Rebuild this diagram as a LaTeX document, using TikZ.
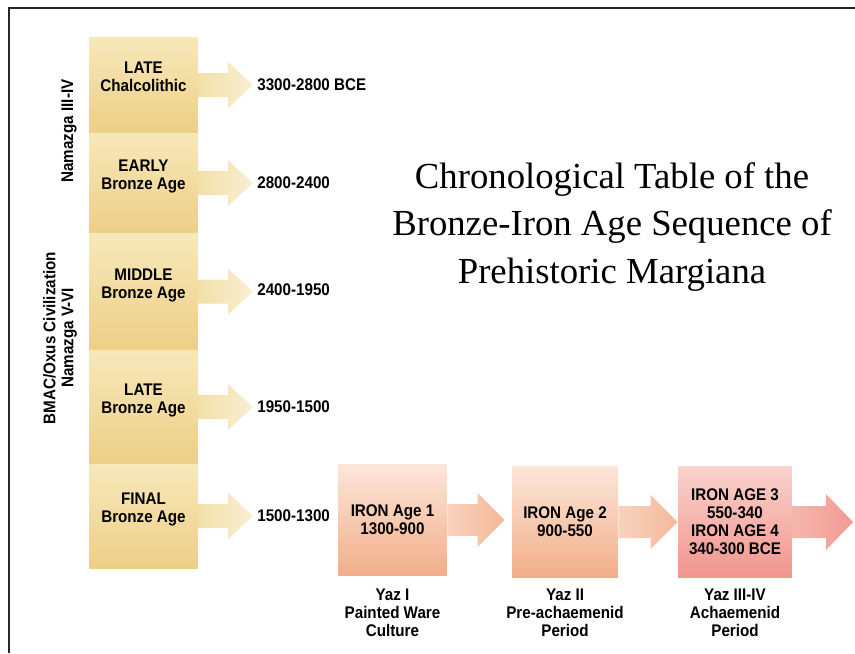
\documentclass[tikz,border=0pt]{standalone}
\usepackage{fontspec}
\setmainfont{Liberation Serif}
\setsansfont{Liberation Sans}
\newfontfamily\agefam[FakeStretch = 0.9]{Liberation Sans}
\usetikzlibrary{calc}
\usetikzlibrary{positioning}
\definecolor{yTop}{HTML}{F7E8BA}
\definecolor{yBot}{HTML}{EDCF86}
\definecolor{yArrL}{HTML}{F3E0A8}
\definecolor{yArrR}{HTML}{F9EFD2}
\definecolor{iTop}{HTML}{FCE6DA}
\definecolor{iMid}{HTML}{F7C6AA}
\definecolor{iBot}{HTML}{F2AE89}
\definecolor{iArrL}{HTML}{F8D2BD}
\definecolor{iArrR}{HTML}{F4B999}
\definecolor{rTop}{HTML}{F9D2CC}
\definecolor{rMid}{HTML}{F4A9A1}
\definecolor{rBot}{HTML}{F1958D}
\definecolor{rArrL}{HTML}{F6B6AD}
\definecolor{rArrR}{HTML}{F29A92}
\newcommand{\agefont}{\agefam\bfseries\fontsize{9.6}{10.3}\selectfont}
\tikzset{bz/.style = {top color = yTop, bottom color = yBot, minimum width = 2.18cm,
                      inner sep = 0, align = center, font = \agefont, text depth = 9pt}}
\tikzset{ib/.style = {top color = iTop, middle color = iMid, bottom color = iBot,
                      minimum height = 2.22cm, inner sep = 0, align = center, font = \agefont}}
\tikzset{rb/.style = {ib, top color = rTop, middle color = rMid, bottom color = rBot}}
\tikzset{dt/.style = {font = \agefont, anchor = west, inner sep = 0.08cm}}
\tikzset{yz/.style = {font = \agefont, align = center, inner sep = 0}}
\tikzset{vt/.style = {font = \agefont, rotate = 90, inner sep = 0}}
\tikzset{fat/.style n args = {3}{to path = {let \p1 = (\tikztostart), \p2 = (\tikztotarget) in
  (\x1, \y1 + #1) -- (\x2 - #3, \y1 + #1) -- (\x2 - #3, \y1 + #2) -- (\x2, \y1)
  -- (\x2 - #3, \y1 - #2) -- (\x2 - #3, \y1 - #1) -- (\x1, \y1 - #1) -- cycle}}}

\begin{document}
\begin{tikzpicture}[x = 0.02cm, y = -0.02cm]
      \useasboundingbox (0, 0) rectangle (855, 653);
      \draw [line width = 1.1pt, black!85] (9, 653) -- (9, 8) -- (855, 8);

      % bronze age column
      \node [bz, minimum height = 1.92cm] (lc) at (143.5, 85) {LATE\\Chalcolithic};
      \node [bz, minimum height = 2cm] (eb) at (143.5, 183) {EARLY\\Bronze Age};
      \node [bz, minimum height = 2.34cm] (mb) at (143.5, 291.5) {MIDDLE\\Bronze Age};
      \node [bz, minimum height = 2.28cm] (lb) at (143.5, 407) {LATE\\Bronze Age};
      \node [bz, minimum height = 2.08cm] (fb) at (143.5, 516) {FINAL\\Bronze Age};

      \node [dt] (lcd) at (253, 85) {3300-2800 BCE};
      \node [dt] (ebd) at (253, 183) {2800-2400};
      \node [dt] (mbd) at (253, 290) {2400-1950};
      \node [dt] (lbd) at (253, 407) {1950-1500};
      \node [dt] (fbd) at (253, 516) {1500-1300};

      \foreach \b in {lc, eb, mb, lb, fb} {
        \path [left color = yArrL, right color = yArrR]
          (\b.east) to [fat = {0.24cm}{0.46cm}{0.5cm}] (\b d.west);
      }

      \node [vt] (nz34) at (69, 131) {Namazga III-IV};
      \node [vt, align = center] (bmac) at (60, 338) {BMAC/Oxus Civilization\\Namazga V-VI};

      % iron age row
      \node [ib, minimum width = 2.18cm] (ia1) at (392.5, 520) {IRON Age 1\\1300-900};
      \node [ib, minimum width = 2.12cm] (ia2) at (565, 522) {IRON Age 2\\900-550};
      \node [rb, minimum width = 2.28cm] (ia3) at (735, 522) {IRON AGE 3\\550-340\\IRON AGE 4\\340-300 BCE};
      \coordinate (ia3end) at (853, 522);

      \path [left color = iArrL, right color = iArrR]
        (ia1.east) to [fat = {0.32cm}{0.54cm}{0.54cm}] ([xshift = -0.14cm] ia2.west);
      \path [left color = iArrL, right color = iArrR]
        (ia2.east) to [fat = {0.32cm}{0.54cm}{0.54cm}] (ia3.west);
      \path [left color = rArrL, right color = rArrR]
        (ia3.east) to [fat = {0.32cm}{0.56cm}{0.54cm}] (ia3end);

      \node [yz, below = 0.26cm of ia1] (yaz1) {Yaz I\\Painted Ware\\Culture};
      \node [yz, below = 0.22cm of ia2] (yaz2) {Yaz II\\Pre-achaemenid\\Period};
      \node [yz, below = 0.22cm of ia3] (yaz3) {Yaz III-IV\\Achaemenid\\Period};

      \node [align = center, font = \fontsize{20.9}{26.9}\selectfont] (title) at (612, 227)
        {Chronological Table of the\\Bronze-Iron Age Sequence of\\Prehistoric Margiana};
    \end{tikzpicture}
\end{document}
